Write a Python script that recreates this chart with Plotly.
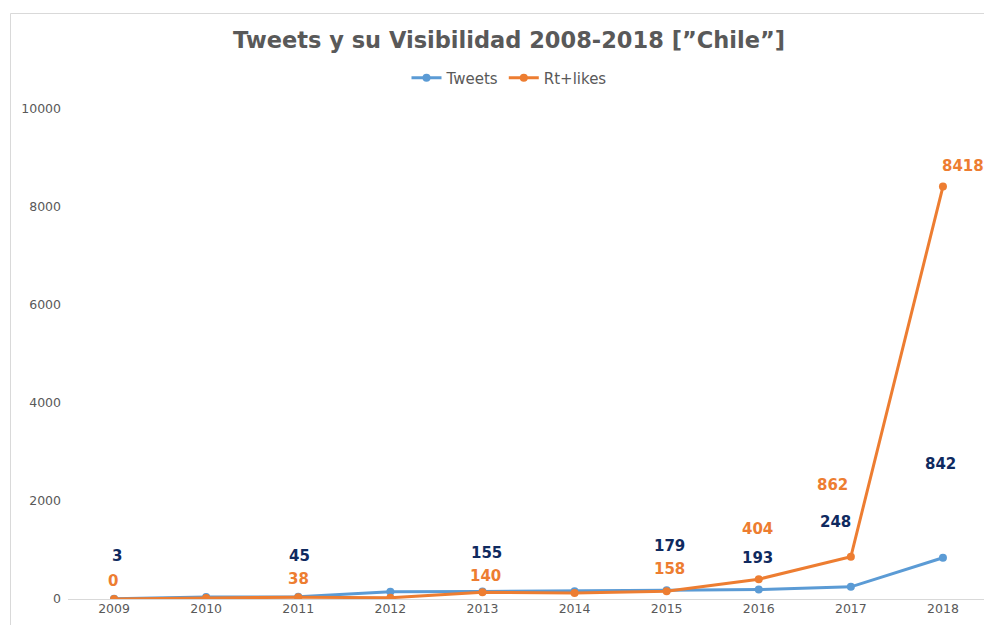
import plotly.graph_objects as go

years = [2009, 2010, 2011, 2012, 2013, 2014, 2015, 2016, 2017, 2018]
tweets = [3, 40, 45, 150, 155, 160, 179, 193, 248, 842]
rt_likes = [0, 20, 38, 25, 140, 120, 158, 404, 862, 8418]
y_ticks = [0, 2000, 4000, 6000, 8000, 10000]
y_tick_text = ["0", "2000", "4000", "6000", "8000", "10000"]

# years that carry a visible data label
tweet_labelled = [2009, 2011, 2013, 2015, 2016, 2017, 2018]
rt_labelled = [2009, 2011, 2013, 2015, 2016, 2017, 2018]

# label pixel offsets (style only)
tweet_off = {2009: (3, 43), 2011: (1, 41), 2013: (4, 38), 2015: (3, 44),
             2016: (-1, 32), 2017: (-15, 65), 2018: (-2, 94)}
rt_off = {2009: (-1, 18), 2011: (0, 18), 2013: (3, 16), 2015: (3, 22),
          2016: (-1, 50), 2017: (-18, 72), 2018: (20, 21)}

BLUE = "#5b9bd5"
ORANGE = "#ed7d31"
NAVY = "#0f2a5f"
GRAY = "#595959"
FONT = "DejaVu Sans"

# the page adds an 8px body margin; the figure fills the rest of the 992x625 window
W, H, OFF = 984, 617, 8

fig = go.Figure()
fig.add_trace(go.Scatter(x=years, y=tweets, name="Tweets", mode="lines+markers",
                         line=dict(color=BLUE, width=3), marker=dict(size=8, color=BLUE)))
fig.add_trace(go.Scatter(x=years, y=rt_likes, name="Rt+likes", mode="lines+markers",
                         line=dict(color=ORANGE, width=3), marker=dict(size=8, color=ORANGE)))

ann = []
for yr in tweet_labelled:
    i = years.index(yr)
    dx, dy = tweet_off[yr]
    ann.append(dict(x=yr, y=tweets[i], text=f"<b>{tweets[i]}</b>", showarrow=False,
                    xshift=dx, yshift=dy, font=dict(family=FONT, size=15, color=NAVY)))
for yr in rt_labelled:
    i = years.index(yr)
    dx, dy = rt_off[yr]
    ann.append(dict(x=yr, y=rt_likes[i], text=f"<b>{rt_likes[i]}</b>", showarrow=False,
                    xshift=dx, yshift=dy, font=dict(family=FONT, size=15, color=ORANGE)))

fig.update_layout(
    width=W, height=H,
    margin=dict(l=68 - OFF, r=3, t=109 - OFF, b=26),
    paper_bgcolor="white", plot_bgcolor="white",
    font=dict(family=FONT, color=GRAY),
    title=dict(text="<b>Tweets y su Visibilidad 2008-2018 [”Chile”]</b>",
               x=(509 - OFF) / W, xanchor="center", xref="container",
               y=1 - (40 - OFF) / H, yanchor="middle", yref="container",
               font=dict(family=FONT, size=22.5, color=GRAY)),
    legend=dict(orientation="h", x=(509 - OFF) / W, xref="container", xanchor="center",
                y=1 - (78 - OFF) / H, yref="container", yanchor="middle",
                font=dict(family=FONT, size=15, color=GRAY), itemwidth=30,
                traceorder="normal"),
    annotations=ann,
    shapes=[dict(type="rect", xref="paper", yref="paper",
                 x0=(10.5 - 68) / 921, x1=1.5, y0=-0.3, y1=(599 - 13.5) / 490,
                 line=dict(color="#d9d9d9", width=1), fillcolor="rgba(0,0,0,0)",
                 layer="below")],
)
fig.update_xaxes(range=[2008.5, 2018.5], tickmode="array", tickvals=years,
                 ticktext=[str(y) for y in years], showgrid=False, zeroline=False,
                 showline=False, tickfont=dict(family=FONT, size=12.5, color=GRAY))
fig.update_yaxes(range=[0, 10000], tickmode="array", tickvals=y_ticks,
                 ticktext=y_tick_text,
                 showgrid=False, zeroline=True, zerolinecolor="#d9d9d9", zerolinewidth=1,
                 showline=False, ticklabelstandoff=6,
                 tickfont=dict(family=FONT, size=12.5, color=GRAY))

fig.write_html("out.html")
